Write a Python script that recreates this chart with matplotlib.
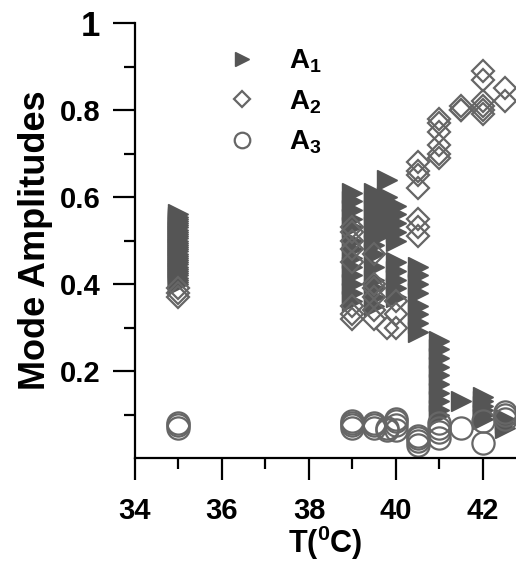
import numpy as np
import matplotlib
matplotlib.use('Agg')
from matplotlib import pyplot as plt

plt.rcParams['font.family'] = ['Liberation Sans', 'DejaVu Sans']
plt.rcParams['font.weight'] = 'bold'
plt.rcParams['mathtext.fontset'] = 'custom'
plt.rcParams['mathtext.rm'] = 'Liberation Sans:bold'
plt.rcParams['mathtext.it'] = 'Liberation Sans:bold'
plt.rcParams['mathtext.bf'] = 'Liberation Sans:bold'

# A1 (filled triangles)
a1_t = [35] * 33 + [39.0] * 13 + [39.5] * 13 + [39.8] * 6 + [40.0] * 10 \
    + [40.5] * 8 + [41.0] * 10 + [41.5] + [42.0] * 6 + [42.5] * 3
a1_y = [0.400, 0.405, 0.410, 0.415, 0.420, 0.425, 0.430, 0.435, 0.440, 0.445, 0.450,
        0.455, 0.460, 0.465, 0.470, 0.475, 0.480, 0.485, 0.490, 0.495, 0.500,
        0.505, 0.510, 0.515, 0.520, 0.525, 0.530, 0.535, 0.540, 0.545, 0.550, 0.555, 0.560,
        0.61, 0.59, 0.57, 0.55, 0.53, 0.50, 0.48, 0.46, 0.44, 0.42, 0.40, 0.38, 0.36,
        0.61, 0.59, 0.57, 0.55, 0.53, 0.51, 0.49, 0.47, 0.44, 0.41, 0.39, 0.37, 0.35,
        0.64, 0.60, 0.58, 0.56, 0.54, 0.52,
        0.58, 0.56, 0.54, 0.52, 0.50, 0.45, 0.43, 0.41, 0.39, 0.37,
        0.44, 0.42, 0.40, 0.38, 0.35, 0.33, 0.31, 0.29,
        0.27, 0.25, 0.23, 0.21, 0.19, 0.17, 0.15, 0.13, 0.11, 0.10,
        0.13,
        0.14, 0.13, 0.12, 0.11, 0.10, 0.09,
        0.09, 0.08, 0.07]

# A2 (open diamonds)
a2_t = [35] * 3 + [39.0] * 8 + [39.5] * 6 + [39.8] + [40.0] * 3 + [40.5] * 7 \
    + [41.0] * 6 + [41.5] * 3 + [42.0] * 6 + [42.5] * 2
a2_y = [0.37, 0.38, 0.39,
        0.53, 0.52, 0.50, 0.48, 0.45, 0.35, 0.33, 0.32,
        0.47, 0.40, 0.39, 0.37, 0.34, 0.32,
        0.30,
        0.36, 0.33, 0.30,
        0.68, 0.66, 0.65, 0.62, 0.55, 0.53, 0.51,
        0.78, 0.77, 0.75, 0.72, 0.70, 0.69,
        0.80, 0.80, 0.81,
        0.89, 0.87, 0.82, 0.81, 0.80, 0.79,
        0.85, 0.82]

# A3 (open circles)
a3_t = [35] * 3 + [39.0] * 4 + [39.5] * 3 + [39.8] * 2 + [40.0] * 4 + [40.5] * 4 \
    + [41.0] * 4 + [41.5] + [42.0] * 2 + [42.5] * 3
a3_y = [0.07, 0.075, 0.08,
        0.07, 0.075, 0.08, 0.085,
        0.07, 0.075, 0.08,
        0.065, 0.07,
        0.065, 0.075, 0.085, 0.09,
        0.03, 0.04, 0.045, 0.05,
        0.045, 0.06, 0.07, 0.08,
        0.07,
        0.035, 0.085,
        0.09, 0.10, 0.105]

gray = '#555555'
fig = plt.figure(figsize=(5.16, 5.62), dpi=100)
ax = fig.add_axes([0.2616, 0.185, 0.7384, 0.774])

ax.plot(a1_t, a1_y, '>', ms=14.5, color=gray, mec=gray, label='A$_1$')
ax.plot(a2_t, a2_y, 'D', ms=11, mfc='none', mec='#666666', mew=1.6, label='A$_2$')
ax.plot(a3_t, a3_y, 'o', ms=16, mfc='none', mec='#666666', mew=1.6, label='A$_3$')

ax.set_xlim(34, 42.76)
ax.set_ylim(0, 1)
ax.set_xticks([34, 36, 38, 40, 42])
ax.set_xticks([35, 37, 39, 41], minor=True)
ax.set_yticks([0.2, 0.4, 0.6, 0.8, 1.0])
ax.set_yticklabels(['0.2', '0.4', '0.6', '0.8', '1'])
ax.set_yticks([0.1, 0.3, 0.5, 0.7, 0.9], minor=True)
ax.tick_params(which='major', direction='out', length=16, width=1.6, labelsize=21)
ax.tick_params(axis='x', which='major', pad=12)
ax.tick_params(axis='y', which='major', pad=9)
ax.tick_params(which='minor', direction='out', length=8, width=1.6)
ax.get_yticklabels()[-1].set_fontsize(25)
for s in ['top', 'right']:
    ax.spines[s].set_visible(False)
for s in ['left', 'bottom']:
    ax.spines[s].set_linewidth(1.6)

ax.set_xlabel('T($^0$C)', fontsize=22, fontweight='bold', labelpad=-1)
ax.set_ylabel('Mode Amplitudes', fontsize=26, fontweight='bold', labelpad=5)

leg = ax.legend(loc='upper left', bbox_to_anchor=(200 / 516, 1 - 34 / 562), bbox_transform=fig.transFigure,
                frameon=False, fontsize=20, markerscale=0.7, handlelength=2.0, handletextpad=0.72,
                labelspacing=0.46, borderpad=0)

fig.savefig('out.png', dpi=100)
